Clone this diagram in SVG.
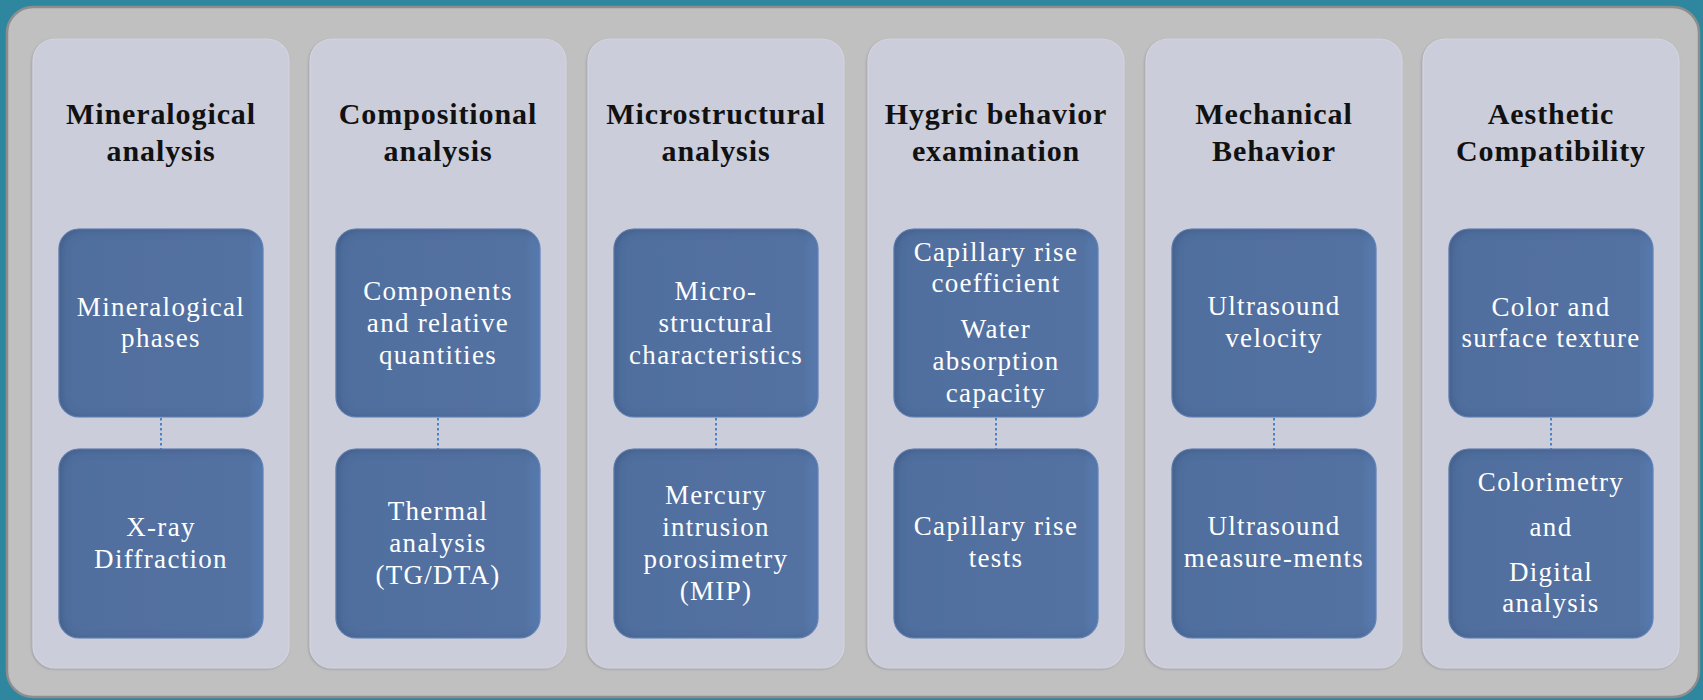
<svg xmlns="http://www.w3.org/2000/svg" width="1703" height="700" viewBox="0 0 1703 700">
  <style>
    .panel { fill: #c0c0c0; stroke: #8d8d8d; stroke-width: 2.5; }
    .column { fill: #cbcdda; stroke: #d4d5e0; stroke-width: 1.2; }
    .box { fill: url(#boxFill); stroke: #6a8ec6; stroke-width: 1.2; }
    .title { font-family: "Liberation Serif", "Times New Roman", serif; font-weight: bold; font-size: 30px; fill: #111111; text-anchor: middle; letter-spacing: 0.9px; }
    .label { font-family: "Liberation Serif", "Times New Roman", serif; font-size: 27px; fill: #ffffff; text-anchor: middle; letter-spacing: 1.3px; }
    .link { stroke: #4a84c6; stroke-width: 2; stroke-dasharray: 2.5 2.5; fill: none; }
  </style>
  <defs>
    <linearGradient id="boxFill" x1="0" y1="0" x2="1" y2="0">
      <stop offset="0" stop-color="#506e9e"/>
      <stop offset="0.93" stop-color="#5372a1"/>
      <stop offset="1" stop-color="#5a7db3"/>
    </linearGradient>
    <!-- soft inner shadow along the top/left/bottom of the blue boxes -->
    <filter id="inset" x="-5%" y="-5%" width="110%" height="110%">
      <feFlood flood-color="#2c3f63" flood-opacity="0.55" result="c"/>
      <feComposite in="c" in2="SourceAlpha" operator="out" result="outside"/>
      <feGaussianBlur in="outside" stdDeviation="4" result="blur"/>
      <feOffset in="blur" dx="2" dy="1" result="off"/>
      <feComposite in="off" in2="SourceAlpha" operator="in" result="inner"/>
      <feMerge><feMergeNode in="SourceGraphic"/><feMergeNode in="inner"/></feMerge>
    </filter>
    <filter id="lift" x="-5%" y="-5%" width="110%" height="110%">
      <feDropShadow dx="-1" dy="1" stdDeviation="1" flood-color="#8a8c99" flood-opacity="0.6"/>
    </filter>
  </defs>

  <!-- backdrop -->
  <rect x="0" y="0" width="1703" height="700" fill="#2f869f"/>
  <rect class="panel" x="7" y="7" width="1692" height="690" rx="26"/>

  <!-- columns -->
  <g id="col-mineralogical">
    <rect class="column" x="33" y="39" width="256" height="629" rx="22" filter="url(#lift)"/>
    <text class="title" x="161" y="124">Mineralogical</text>
    <text class="title" x="161" y="161">analysis</text>
  </g>
  <g id="col-compositional">
    <rect class="column" x="310" y="39" width="256" height="629" rx="22" filter="url(#lift)"/>
    <text class="title" x="438" y="124">Compositional</text>
    <text class="title" x="438" y="161">analysis</text>
  </g>
  <g id="col-microstructural">
    <rect class="column" x="588" y="39" width="256" height="629" rx="22" filter="url(#lift)"/>
    <text class="title" x="716" y="124">Microstructural</text>
    <text class="title" x="716" y="161">analysis</text>
  </g>
  <g id="col-hygric">
    <rect class="column" x="868" y="39" width="256" height="629" rx="22" filter="url(#lift)"/>
    <text class="title" x="996" y="124">Hygric behavior</text>
    <text class="title" x="996" y="161">examination</text>
  </g>
  <g id="col-mechanical">
    <rect class="column" x="1146" y="39" width="256" height="629" rx="22" filter="url(#lift)"/>
    <text class="title" x="1274" y="124">Mechanical</text>
    <text class="title" x="1274" y="161">Behavior</text>
  </g>
  <g id="col-aesthetic">
    <rect class="column" x="1423" y="39" width="256" height="629" rx="22" filter="url(#lift)"/>
    <text class="title" x="1551" y="124">Aesthetic</text>
    <text class="title" x="1551" y="161">Compatibility</text>
  </g>

  <!-- dotted links between property and method boxes -->
  <g id="connectors">
    <line class="link" x1="161" y1="418" x2="161" y2="449"/>
    <line class="link" x1="438" y1="418" x2="438" y2="449"/>
    <line class="link" x1="716" y1="418" x2="716" y2="449"/>
    <line class="link" x1="996" y1="418" x2="996" y2="449"/>
    <line class="link" x1="1274" y1="418" x2="1274" y2="449"/>
    <line class="link" x1="1551" y1="418" x2="1551" y2="449"/>
  </g>

  <!-- property boxes -->
  <g id="mineralogical-phases">
    <rect class="box" x="59" y="229" width="204" height="188" rx="20" filter="url(#inset)"/>
    <text class="label" x="161" y="316">Mineralogical</text>
    <text class="label" x="161" y="347">phases</text>
  </g>
  <g id="components">
    <rect class="box" x="336" y="229" width="204" height="188" rx="20" filter="url(#inset)"/>
    <text class="label" x="438" y="300">Components</text>
    <text class="label" x="438" y="332">and relative</text>
    <text class="label" x="438" y="364">quantities</text>
  </g>
  <g id="microstructure">
    <rect class="box" x="614" y="229" width="204" height="188" rx="20" filter="url(#inset)"/>
    <text class="label" x="716" y="300">Micro-</text>
    <text class="label" x="716" y="332">structural</text>
    <text class="label" x="716" y="364">characteristics</text>
  </g>
  <g id="capillary-water">
    <rect class="box" x="894" y="229" width="204" height="188" rx="20" filter="url(#inset)"/>
    <text class="label" x="996" y="261">Capillary rise</text>
    <text class="label" x="996" y="292">coefficient</text>
    <text class="label" x="996" y="338">Water</text>
    <text class="label" x="996" y="370">absorption</text>
    <text class="label" x="996" y="402">capacity</text>
  </g>
  <g id="ultrasound-velocity">
    <rect class="box" x="1172" y="229" width="204" height="188" rx="20" filter="url(#inset)"/>
    <text class="label" x="1274" y="315">Ultrasound</text>
    <text class="label" x="1274" y="347">velocity</text>
  </g>
  <g id="color-texture">
    <rect class="box" x="1449" y="229" width="204" height="188" rx="20" filter="url(#inset)"/>
    <text class="label" x="1551" y="316">Color and</text>
    <text class="label" x="1551" y="347">surface texture</text>
  </g>

  <!-- method boxes -->
  <g id="xrd">
    <rect class="box" x="59" y="449" width="204" height="189" rx="20" filter="url(#inset)"/>
    <text class="label" x="161" y="536">X-ray</text>
    <text class="label" x="161" y="568">Diffraction</text>
  </g>
  <g id="thermal">
    <rect class="box" x="336" y="449" width="204" height="189" rx="20" filter="url(#inset)"/>
    <text class="label" x="438" y="520">Thermal</text>
    <text class="label" x="438" y="552">analysis</text>
    <text class="label" x="438" y="584">(TG/DTA)</text>
  </g>
  <g id="mip">
    <rect class="box" x="614" y="449" width="204" height="189" rx="20" filter="url(#inset)"/>
    <text class="label" x="716" y="504">Mercury</text>
    <text class="label" x="716" y="536">intrusion</text>
    <text class="label" x="716" y="568">porosimetry</text>
    <text class="label" x="716" y="600">(MIP)</text>
  </g>
  <g id="capillary-tests">
    <rect class="box" x="894" y="449" width="204" height="189" rx="20" filter="url(#inset)"/>
    <text class="label" x="996" y="535">Capillary rise</text>
    <text class="label" x="996" y="567">tests</text>
  </g>
  <g id="ultrasound-measurements">
    <rect class="box" x="1172" y="449" width="204" height="189" rx="20" filter="url(#inset)"/>
    <text class="label" x="1274" y="535">Ultrasound</text>
    <text class="label" x="1274" y="567">measure-ments</text>
  </g>
  <g id="colorimetry">
    <rect class="box" x="1449" y="449" width="204" height="189" rx="20" filter="url(#inset)"/>
    <text class="label" x="1551" y="491">Colorimetry</text>
    <text class="label" x="1551" y="536">and</text>
    <text class="label" x="1551" y="581">Digital</text>
    <text class="label" x="1551" y="612">analysis</text>
  </g>
</svg>
